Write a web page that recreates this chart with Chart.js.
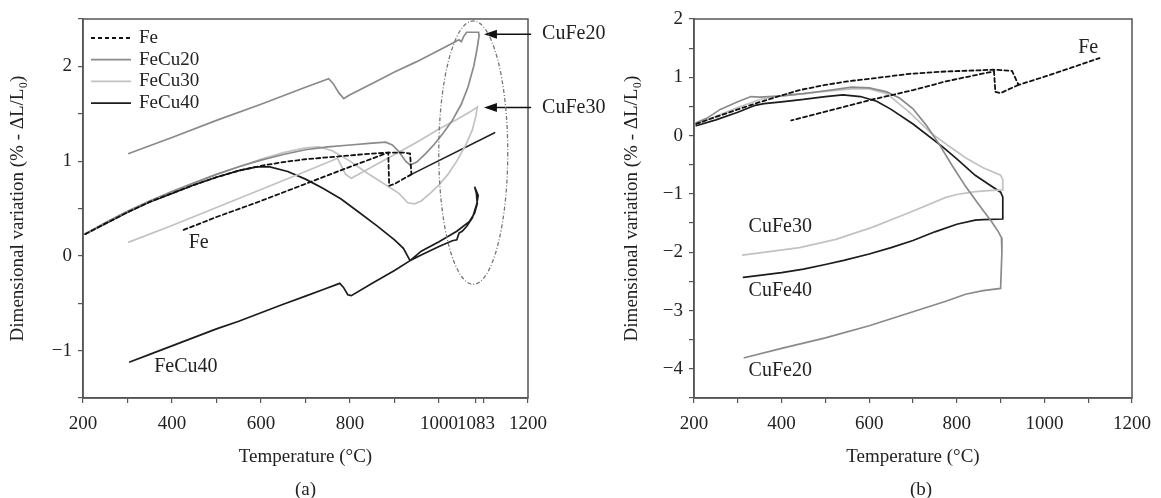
<!DOCTYPE html>
<html>
<head>
<meta charset="utf-8">
<title>Dilatometry FeCu / CuFe</title>
<script src="https://cdn.jsdelivr.net/npm/chart.js@4.4.1/dist/chart.umd.min.js"></script>
<style>
  body { margin: 0; background: #fff; }
  #wrap { position: relative; width: 1161px; height: 498px; overflow: hidden; }
  canvas { position: absolute; top: 0; }
</style>
</head>
<body>
<div id="wrap">
  <canvas id="chartA" width="620" height="498" style="left:0"></canvas>
  <canvas id="chartB" width="581" height="498" style="left:580px"></canvas>
</div>
<script>
// ---------- panel (a): Fe and FeCu heating/cooling loops ----------
const feTempA = [205, 250, 300, 350, 400, 450, 500, 550, 600, 650, 700, 750, 800, 850, 880, 900, 920, 935, 938,
  null, 938, 900, 888, 886, 880, 800, 700, 600, 500, 424];
const feDilA = [0.23, 0.34, 0.46, 0.57, 0.66, 0.75, 0.83, 0.90, 0.95, 0.99, 1.02, 1.04, 1.06, 1.08, 1.09, 1.09, 1.09, 1.08, 0.86,
  null, 0.86, 0.76, 0.74, 1.09, 1.08, 0.94, 0.76, 0.58, 0.41, 0.27];
const feHighTempA = [938, 1125];
const feHighDilA = [0.86, 1.30];

const fecu20TempA = [205, 250, 300, 350, 400, 450, 500, 550, 600, 650, 700, 750, 800, 850, 880, 895, 910, 925, 935,
  950, 970, 990, 1010, 1030, 1050, 1065, 1078, 1085, 1090, 1089, 1075, 1062, 1056, 1050, 1045,
  1000, 950, 900, 850, 800, 786, 775, 762, 752, 700, 600, 500, 400, 303];
const fecu20DilA = [0.23, 0.35, 0.47, 0.58, 0.68, 0.77, 0.86, 0.94, 1.01, 1.07, 1.12, 1.15, 1.17, 1.19, 1.20, 1.17, 1.10, 1.00, 0.96,
  0.99, 1.08, 1.18, 1.30, 1.43, 1.60, 1.78, 2.00, 2.17, 2.32, 2.36, 2.36, 2.36, 2.32, 2.26, 2.28,
  2.17, 2.05, 1.94, 1.82, 1.70, 1.66, 1.72, 1.82, 1.87, 1.78, 1.60, 1.43, 1.25, 1.08];

const fecu30TempA = [205, 250, 300, 350, 400, 450, 500, 550, 600, 650, 700, 730, 760, 800, 840, 880, 910, 930, 945,
  960, 980, 1000, 1020, 1040, 1060, 1075, 1083, 1086,
  1070, 1040, 1000, 950, 900, 850, 803, 790, 772, 700, 600, 500, 400, 303];
const fecu30DilA = [0.23, 0.35, 0.47, 0.58, 0.68, 0.77, 0.86, 0.94, 1.02, 1.09, 1.14, 1.15, 1.11, 1.00, 0.87, 0.75, 0.66, 0.56, 0.55,
  0.58, 0.66, 0.75, 0.86, 1.00, 1.17, 1.33, 1.48, 1.57,
  1.52, 1.44, 1.34, 1.20, 1.07, 0.94, 0.82, 0.86, 1.03, 0.89, 0.70, 0.51, 0.32, 0.145];

const fecu40TempA = [205, 250, 300, 350, 400, 450, 500, 550, 590, 620, 660, 700, 740, 780, 820, 860, 900, 920, 935,
  960, 1000, 1030, 1040, 1045, 1052, 1062, 1075, 1085, 1088, 1080, 1084, 1086, 1080, 1068, 1040, 1000, 960, 935,
  900, 850, 803, 795, 785, 777, 740, 700, 650, 600, 550, 500, 450, 400, 350, 305];
const fecu40DilA = [0.23, 0.34, 0.46, 0.57, 0.66, 0.75, 0.83, 0.90, 0.94, 0.94, 0.89, 0.81, 0.71, 0.60, 0.46, 0.32, 0.17, 0.08, -0.05,
  0.01, 0.10, 0.16, 0.17, 0.24, 0.26, 0.31, 0.40, 0.55, 0.64, 0.73, 0.66, 0.55, 0.45, 0.36, 0.26, 0.15, 0.05, -0.05,
  -0.155, -0.29, -0.42, -0.41, -0.33, -0.29, -0.355, -0.425, -0.51, -0.60, -0.69, -0.77, -0.86, -0.95, -1.04, -1.12];

const xTicksA = [200, 300, 400, 500, 600, 700, 800, 900, 1000, 1083, 1100, 1200];
const xLabelsA = [200, 400, 600, 800, 1000, 1083, 1200];

// ---------- panel (b): Fe and CuFe loops ----------
const feTempB = [205, 250, 300, 340, 400, 441, 500, 550, 608, 692, 775, 850, 884, 926, 941, 1000, 1060, 1126,
  null, 941, 900, 888, 885, 870, 775, 700, 608, 500, 422];
const feDilB = [0.20, 0.32, 0.45, 0.55, 0.69, 0.78, 0.87, 0.93, 0.98, 1.06, 1.10, 1.12, 1.13, 1.11, 0.87, 1.01, 1.16, 1.33,
  null, 0.87, 0.73, 0.75, 1.10, 1.08, 0.93, 0.78, 0.62, 0.41, 0.26];

const cufe20TempB = [205, 230, 260, 300, 330, 350, 400, 450, 500, 560, 600, 640, 670, 700, 730, 760, 790, 820, 850, 880, 895, 902, 903, 900,
  860, 820, 775, 700, 600, 500, 400, 315];
const cufe20DilB = [0.22, 0.30, 0.45, 0.58, 0.67, 0.66, 0.68, 0.72, 0.77, 0.83, 0.82, 0.75, 0.64, 0.46, 0.18, -0.15, -0.52, -0.87, -1.18, -1.48, -1.65, -1.75, -2.00, -2.62,
  -2.66, -2.72, -2.84, -3.02, -3.26, -3.47, -3.65, -3.81];

const cufe30TempB = [205, 250, 300, 350, 400, 450, 500, 560, 600, 640, 692, 740, 780, 820, 860, 900, 905, 905,
  880, 842, 800, 775, 692, 608, 524, 441, 311];
const cufe30DilB = [0.20, 0.33, 0.48, 0.62, 0.68, 0.72, 0.76, 0.80, 0.80, 0.72, 0.40, 0.05, -0.17, -0.38, -0.55, -0.68, -0.75, -0.93,
  -0.94, -0.96, -1.01, -1.06, -1.32, -1.57, -1.78, -1.92, -2.05];

const cufe40TempB = [205, 250, 300, 340, 360, 400, 450, 500, 540, 580, 617, 650, 700, 767, 800, 842, 870, 900, 905, 905,
  860, 842, 800, 750, 700, 650, 600, 542, 500, 450, 400, 313];
const cufe40DilB = [0.17, 0.27, 0.40, 0.52, 0.55, 0.58, 0.62, 0.67, 0.70, 0.67, 0.59, 0.45, 0.20, -0.19, -0.40, -0.68, -0.82, -0.97, -1.05, -1.43,
  -1.44, -1.45, -1.52, -1.65, -1.80, -1.92, -2.03, -2.14, -2.21, -2.29, -2.35, -2.43];

const xTicksB = [200, 300, 400, 500, 600, 700, 800, 900, 1000, 1100, 1200];
const xLabelsB = [200, 400, 600, 800, 1000, 1200];

const SERIF = "'Liberation Serif', 'Times New Roman', 'DejaVu Serif', serif";
const INK = '#222';
const AXIS = '#555';

function pts(temps, dils) {
  return temps.map((t, i) => ({ x: t, y: dils[i] }));
}

function fmt(v) {
  return v < 0 ? '\u2212' + Math.abs(v) : String(v);
}

const styles = {
  fe: { borderColor: '#111', borderWidth: 1.8, borderDash: [4, 3] },
  feSolid: { borderColor: '#222', borderWidth: 1.6 },
  c20: { borderColor: '#8a8a8a', borderWidth: 1.7 },
  c30: { borderColor: '#c2c2c2', borderWidth: 1.7 },
  c40: { borderColor: '#1c1c1c', borderWidth: 1.7 }
};

// frame, legend, labels, arrows and ellipse
const decorPlugin = {
  id: 'decor',
  afterDatasetsDraw(chart, args, opts) {
    const { ctx, chartArea: a, scales: { x, y } } = chart;
    ctx.save();
    ctx.strokeStyle = AXIS;
    ctx.lineWidth = 1.5;
    ctx.strokeRect(a.left, a.top, a.right - a.left, a.bottom - a.top);

    ctx.fillStyle = INK;
    ctx.font = '20px ' + SERIF;
    ctx.textBaseline = 'middle';
    ctx.textAlign = 'center';
    (opts.texts || []).forEach(t => {
      ctx.fillText(t.text, x.getPixelForValue(t.x), y.getPixelForValue(t.y));
    });

    (opts.arrows || []).forEach(ar => {
      const px0 = x.getPixelForValue(ar.from), px1 = x.getPixelForValue(ar.to);
      const py = y.getPixelForValue(ar.y);
      ctx.strokeStyle = '#111';
      ctx.lineWidth = 1.5;
      ctx.beginPath();
      ctx.moveTo(px0, py);
      ctx.lineTo(px1 + 10, py);
      ctx.stroke();
      ctx.beginPath();
      ctx.moveTo(px1, py);
      ctx.lineTo(px1 + 13, py - 4.5);
      ctx.lineTo(px1 + 13, py + 4.5);
      ctx.closePath();
      ctx.fillStyle = '#111';
      ctx.fill();
      ctx.fillStyle = INK;
      ctx.textAlign = 'left';
      ctx.fillText(ar.text, px0 + 11, py);
    });

    if (opts.ellipse) {
      const e = opts.ellipse;
      const cx = x.getPixelForValue(e.x), cy = y.getPixelForValue(e.y);
      const rx = Math.abs(x.getPixelForValue(e.x + e.rx) - cx);
      const ry = Math.abs(y.getPixelForValue(e.y + e.ry) - cy);
      ctx.strokeStyle = '#777';
      ctx.lineWidth = 1.3;
      ctx.setLineDash([4, 2, 1, 2]);
      ctx.beginPath();
      ctx.ellipse(cx, cy, rx, ry, 0, 0, Math.PI * 2);
      ctx.stroke();
      ctx.setLineDash([]);
    }

    if (opts.legend) {
      ctx.font = '19px ' + SERIF;
      let ly = a.top + 19;
      chart.data.datasets.forEach(ds => {
        if (ds.noLegend) return;
        ctx.strokeStyle = ds.borderColor;
        ctx.lineWidth = ds.borderWidth;
        ctx.setLineDash(ds.borderDash || []);
        ctx.beginPath();
        ctx.moveTo(a.left + 8, ly);
        ctx.lineTo(a.left + 48, ly);
        ctx.stroke();
        ctx.setLineDash([]);
        ctx.fillStyle = INK;
        ctx.textAlign = 'left';
        ctx.fillText(ds.label, a.left + 56, ly);
        ly += 21.7;
      });
    }

    ctx.font = '19px ' + SERIF;
    ctx.textAlign = 'center';
    ctx.fillStyle = INK;
    ctx.fillText(opts.panel, (a.left + a.right) / 2 + (opts.panelShift || 0), 490);
    ctx.restore();
  }
};

function axisFont() {
  return { family: SERIF, size: 19 };
}

function makeChart(id, cfg) {
  return new Chart(document.getElementById(id), {
    type: 'line',
    data: { datasets: cfg.datasets },
    options: {
      responsive: false,
      animation: false,
      layout: { padding: { top: 19, right: cfg.padRight, left: 0, bottom: 0 } },
      elements: { point: { radius: 0 }, line: { tension: 0, borderCapStyle: 'round' } },
      plugins: {
        legend: { display: false },
        tooltip: { enabled: false },
        decor: cfg.decor
      },
      scales: {
        x: {
          type: 'linear', min: 200, max: 1200,
          afterBuildTicks: s => { s.ticks = cfg.xTicks.map(v => ({ value: v })); },
          afterFit: s => { s.height = 100; },
          ticks: {
            autoSkip: false, maxRotation: 0, minRotation: 0, padding: 10, color: INK, font: axisFont(),
            callback: v => cfg.xLabels.includes(v) ? String(v) : ''
          },
          grid: { drawOnChartArea: false, tickLength: 5, color: AXIS, lineWidth: 1.2 },
          border: { color: AXIS, width: 1.5 },
          title: { display: true, text: 'Temperature (°C)', color: INK, font: axisFont(), padding: { top: 0, bottom: 30 } }
        },
        y: {
          min: cfg.yMin, max: cfg.yMax,
          afterFit: s => { s.width = cfg.yWidth; },
          ticks: {
            stepSize: 0.5, padding: 6, color: INK, font: axisFont(),
            callback: v => Number.isInteger(v) ? fmt(v) : ''
          },
          grid: { drawOnChartArea: false, tickLength: 5, color: AXIS, lineWidth: 1.2 },
          border: { color: AXIS, width: 1.5 },
          title: {
            display: true, text: 'Dimensional variation (% - \u0394L/L\u2080)', color: INK, font: axisFont(),
            padding: { top: cfg.yTitlePad, bottom: 0 }
          }
        }
      }
    },
    plugins: [decorPlugin]
  });
}

makeChart('chartA', {
  padRight: 92, yWidth: 83, yTitlePad: 7, yMin: -1.5, yMax: 2.5,
  xTicks: xTicksA, xLabels: xLabelsA,
  datasets: [
    { label: 'Fe', data: pts(feTempA, feDilA), ...styles.fe },
    { label: 'FeCu20', data: pts(fecu20TempA, fecu20DilA), ...styles.c20 },
    { label: 'FeCu30', data: pts(fecu30TempA, fecu30DilA), ...styles.c30 },
    { label: 'FeCu40', data: pts(fecu40TempA, fecu40DilA), ...styles.c40 },
    { label: 'Fe (γ)', noLegend: true, data: pts(feHighTempA, feHighDilA), ...styles.feSolid }
  ],
  decor: {
    panel: '(a)',
    legend: true,
    texts: [{ text: 'Fe', x: 460, y: 0.14 }, { text: 'FeCu40', x: 431, y: -1.17 }],
    arrows: [{ text: 'CuFe20', from: 1207, to: 1101, y: 2.34 }, { text: 'CuFe30', from: 1207, to: 1101, y: 1.566 }],
    ellipse: { x: 1077, y: 1.09, rx: 77.5, ry: 1.39 }
  }
});

makeChart('chartB', {
  padRight: 22, yWidth: 114, yTitlePad: 41, yMin: -4.5, yMax: 2,
  xTicks: xTicksB, xLabels: xLabelsB,
  datasets: [
    { label: 'Fe', data: pts(feTempB, feDilB), ...styles.fe },
    { label: 'CuFe20', data: pts(cufe20TempB, cufe20DilB), ...styles.c20 },
    { label: 'CuFe30', data: pts(cufe30TempB, cufe30DilB), ...styles.c30 },
    { label: 'CuFe40', data: pts(cufe40TempB, cufe40DilB), ...styles.c40 }
  ],
  decor: {
    panel: '(b)',
    panelShift: 8,
    texts: [
      { text: 'Fe', x: 1100, y: 1.51 },
      { text: 'CuFe30', x: 397, y: -1.57 },
      { text: 'CuFe40', x: 397, y: -2.66 },
      { text: 'CuFe20', x: 397, y: -4.04 }
    ]
  }
});
</script>
</body>
</html>
